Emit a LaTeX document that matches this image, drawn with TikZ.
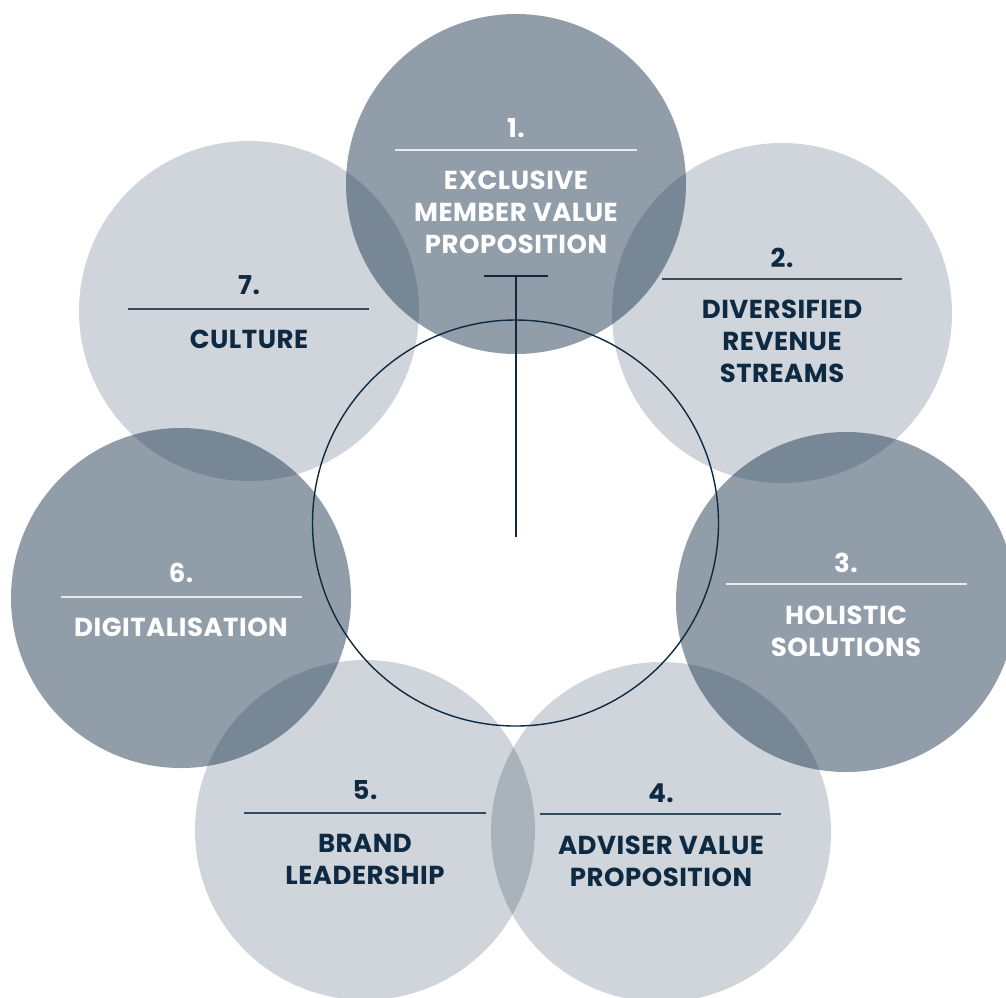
\documentclass[tikz,border=0pt]{standalone}
\usepackage{fontspec}
\setmainfont{Poppins}[LetterSpace=2.0]
\definecolor{navy}{RGB}{14,42,66}
\definecolor{discbase}{RGB}{30,55,80}
\begin{document}
\begin{tikzpicture}[x=1pt,y=-1pt,
    lightdisc/.style={fill=discbase,fill opacity=0.21},
    darkdisc/.style={fill=discbase,fill opacity=0.49},
    navytext/.style={text=navy,font=\fontsize{26}{32}\selectfont\bfseries,align=center,inner sep=0pt},
    whitetext/.style={navytext,text=white},
    navyrule/.style={draw=navy!85,line width=1.2pt},
    whiterule/.style={draw=white!90!discbase,line width=1.2pt},
    hubline/.style={draw=navy,line width=1.4pt}]

    \clip (0,0) rectangle (1006,997);

    \fill[darkdisc] (516,184) circle (170pt);
    \fill[lightdisc] (782,313) circle (170pt);
    \fill[darkdisc] (846,602) circle (170pt);
    \fill[lightdisc] (661,832) circle (170pt);
    \fill[lightdisc] (365,830) circle (170pt);
    \fill[darkdisc] (181,598) circle (170pt);
    \fill[lightdisc] (249,311) circle (170pt);

    \draw[hubline] (515.5,523) circle (203pt);
    \coordinate (stemtop) at (516,276);
    \coordinate (stemfoot) at (516,537);
    \draw[hubline] (484,276) to (548,276);
    \draw[hubline] (stemtop) to (stemfoot);

      \node[whitetext] (num1) at (516,128){1.};
      \draw[whiterule] (395,150) to (637,150);
      \node[whitetext] (lab1) at (516,212.5){EXCLUSIVE\\MEMBER VALUE\\PROPOSITION};

      \node[navytext] (num2) at (782,258){2.};
      \draw[navyrule] (662,279) to (902,279);
      \node[navytext] (lab2) at (782,341.5){DIVERSIFIED\\REVENUE\\STREAMS};

      \node[whitetext] (num3) at (846,563){3.};
      \draw[whiterule] (726,584) to (967,584);
      \node[whitetext] (lab3) at (846,631){HOLISTIC\\SOLUTIONS};

      \node[navytext] (num4) at (661,793){4.};
      \draw[navyrule] (540,814) to (781,814);
      \node[navytext] (lab4) at (661,861){ADVISER VALUE\\PROPOSITION};

      \node[navytext] (num5) at (365,790){5.};
      \draw[navyrule] (244,813) to (486,813);
      \node[navytext] (lab5) at (365,859){BRAND\\LEADERSHIP};

      \node[whitetext] (num6) at (181,573){6.};
      \draw[whiterule] (61,597) to (302,597);
      \node[whitetext] (lab6) at (181,627){DIGITALISATION};

      \node[navytext] (num7) at (249,285){7.};
      \draw[navyrule] (128,309) to (369,309);
      \node[navytext] (lab7) at (249,339){CULTURE};
  \end{tikzpicture}
\end{document}
